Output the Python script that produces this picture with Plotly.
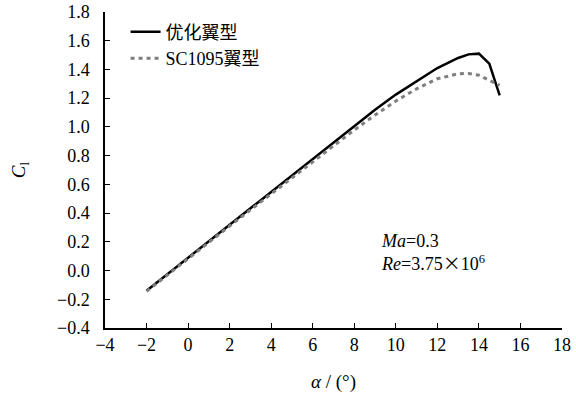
import plotly.graph_objects as go

# Angle of attack (deg) and lift coefficient for the two airfoils
alpha = [-2, -1, 0, 1, 2, 3, 4, 5, 6, 7, 8, 9, 10, 11, 12, 13, 13.5, 14, 14.5, 15]
cl_opt = [-0.14, -0.025, 0.09, 0.205, 0.32, 0.435, 0.55, 0.665, 0.78, 0.895,
          1.01, 1.12, 1.225, 1.32, 1.41, 1.48, 1.505, 1.51, 1.44, 1.22]
cl_sc1095 = [-0.145, -0.03, 0.085, 0.198, 0.31, 0.422, 0.535, 0.647, 0.758, 0.868,
             0.978, 1.083, 1.18, 1.265, 1.335, 1.37, 1.372, 1.36, 1.325, 1.29]

x_ticks = list(range(-4, 19, 2))
y_ticks = [round(-0.4 + 0.2 * i, 1) for i in range(12)]

FONT = "Liberation Serif, Noto Sans CJK SC"
TICKFONT = dict(family="Liberation Serif", size=18, color="black")

fig = go.Figure()
fig.add_trace(go.Scatter(x=alpha, y=cl_opt, mode="lines", name="优化翼型",
                         line=dict(color="black", width=2.5)))
fig.add_trace(go.Scatter(x=alpha, y=cl_sc1095, mode="lines", name="SC1095翼型",
                         line=dict(color="#7f7f7f", width=3, dash="4px,4px")))

fig.add_annotation(x=9.2, y=0.12, xref="x", yref="y", xanchor="left", yanchor="middle",
                   text="<i>Ma</i>=0.3<br><i>Re</i>=3.75<span style='font-family:Noto Sans CJK SC'>×</span>10<sup>6</sup>",
                   showarrow=False, align="left", font=dict(size=18, color="black", family=FONT))

fig.update_layout(
    width=576, height=406,
    margin=dict(l=105, r=14, t=12, b=78),
    paper_bgcolor="white", plot_bgcolor="white",
    font=dict(family=FONT, size=18, color="black"),
    showlegend=True,
    legend=dict(x=0.045, y=0.995, xanchor="left", yanchor="top",
                bgcolor="rgba(0,0,0,0)", font=dict(size=18, family=FONT),
                itemwidth=30, tracegroupgap=0),
    xaxis=dict(range=[-4, 18], tickvals=x_ticks, ticks="inside", ticklen=5,
               showline=True, linecolor="black", linewidth=1.5, showgrid=False,
               zeroline=False, tickcolor="black", automargin=False, tickfont=TICKFONT,
               title=dict(text="<i>α</i> / (°)", standoff=20,
                          font=dict(size=19, family="Liberation Serif"))),
    yaxis=dict(range=[-0.4, 1.8], tickvals=y_ticks, tickformat=".1f", ticks="inside",
               ticklen=5, showline=True, linecolor="black", linewidth=1.5,
               showgrid=False, zeroline=False, tickcolor="black", automargin=False,
               ticklabelstandoff=10, tickfont=TICKFONT,
               title=dict(text="<i>C</i><sub>l</sub>", standoff=26,
                          font=dict(size=19, family="Liberation Serif"))),
)

fig.write_html("out.html")
